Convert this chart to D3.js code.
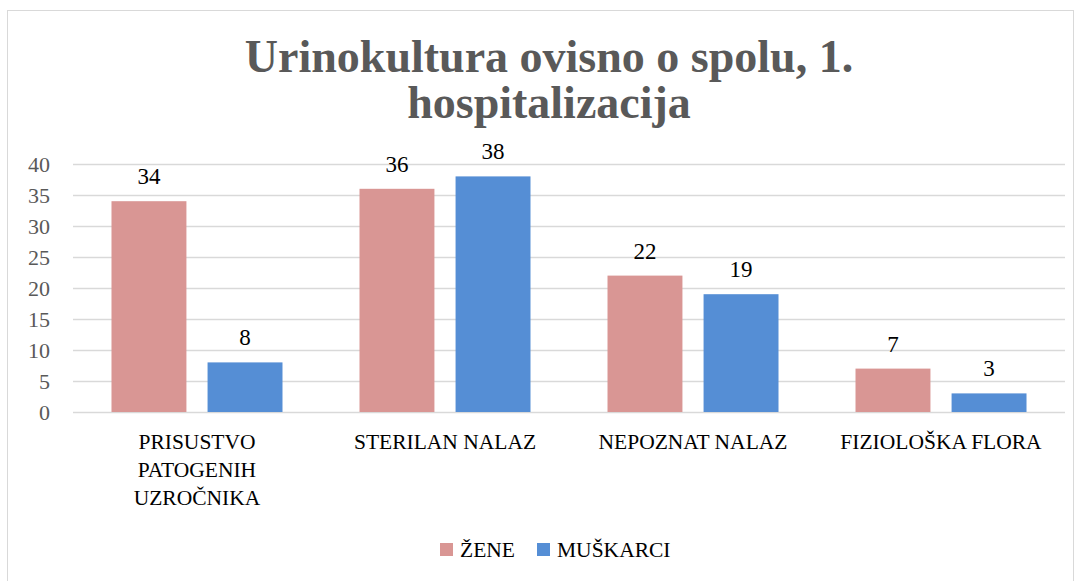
<!DOCTYPE html>
<html>
<head>
<meta charset="utf-8">
<script src="https://cdn.jsdelivr.net/npm/d3@7"></script>
<style>
  body { margin: 0; background: #fff; }
  text { font-family: "Liberation Serif", "DejaVu Serif", serif; }
</style>
</head>
<body>
<div id="chart"></div>
<script>
var categories = [["PRISUSTVO", "PATOGENIH", "UZROČNIKA"], ["STERILAN NALAZ"], ["NEPOZNAT NALAZ"], ["FIZIOLOŠKA FLORA"]];
var seriesNames = ["ŽENE", "MUŠKARCI"];
var zene = [34, 36, 22, 7];
var muskarci = [8, 38, 19, 3];
var yTicks = [0, 5, 10, 15, 20, 25, 30, 35, 40];
var colors = ["#d99694", "#558ed5"];

var svgWidth = 1079;
var svgHeight = 581;

var margin = { top: 164, right: 14, bottom: 169, left: 73 };
var width = svgWidth - margin.left - margin.right;
var height = svgHeight - margin.top - margin.bottom;

var svg = d3.select("#chart")
    .append("svg")
    .attr("width", svgWidth)
    .attr("height", svgHeight);

// outer chart border
svg.append("rect")
    .attr("x", 7.5)
    .attr("y", 10.5)
    .attr("width", 1066)
    .attr("height", 575)
    .attr("fill", "#fff")
    .attr("stroke", "#d9d9d9");

svg.append("text")
    .attr("x", 549)
    .attr("y", 72)
    .attr("text-anchor", "middle")
    .attr("font-size", "46px")
    .attr("font-weight", "bold")
    .attr("fill", "#595959")
    .selectAll("tspan")
    .data(["Urinokultura ovisno o spolu, 1.", "hospitalizacija"])
    .enter()
    .append("tspan")
    .attr("x", 549)
    .attr("dy", (d, i) => i === 0 ? 0 : 46)
    .text(d => d);

var chartGroup = svg.append("g")
    .attr("transform", `translate(${margin.left}, ${margin.top})`);

var x0 = d3.scaleBand()
    .domain(d3.range(categories.length))
    .range([0, width])
    .paddingInner(0.3105)
    .paddingOuter(0.1552);

var x1 = d3.scaleBand()
    .domain(d3.range(seriesNames.length))
    .range([0, x0.bandwidth()])
    .paddingInner(0.22);

var y = d3.scaleLinear()
    .domain([0, 40])
    .range([height, 0]);

// gridlines
chartGroup.append("g")
    .selectAll("line")
    .data(yTicks)
    .enter()
    .append("line")
    .attr("x1", 0)
    .attr("x2", width)
    .attr("y1", d => Math.round(y(d)) + 0.5)
    .attr("y2", d => Math.round(y(d)) + 0.5)
    .attr("stroke", "#d9d9d9")
    .attr("stroke-width", 1.5);

var leftAxis = d3.axisLeft(y).tickValues(yTicks).tickSize(0).tickPadding(23);
var yAxis = chartGroup.append("g").call(leftAxis);
yAxis.select(".domain").remove();
yAxis.selectAll("text")
    .attr("font-size", "22px")
    .attr("fill", "#595959")
    .attr("font-family", "Liberation Serif, serif");

var data = categories.map((c, i) => ({ idx: i, values: [zene[i], muskarci[i]] }));

var groups = chartGroup.selectAll(".grp")
    .data(data)
    .enter()
    .append("g")
    .attr("transform", d => `translate(${x0(d.idx)}, 0)`);

groups.selectAll("rect")
    .data(d => d.values)
    .enter()
    .append("rect")
    .attr("x", (d, i) => x1(i))
    .attr("y", d => y(d))
    .attr("width", x1.bandwidth())
    .attr("height", d => height - y(d))
    .attr("fill", (d, i) => colors[i]);

groups.selectAll(".val")
    .data(d => d.values)
    .enter()
    .append("text")
    .attr("x", (d, i) => x1(i) + x1.bandwidth() / 2)
    .attr("y", d => y(d) - 17)
    .attr("text-anchor", "middle")
    .attr("font-size", "23px")
    .attr("fill", "#000")
    .text(d => d);

// category labels
chartGroup.selectAll(".cat")
    .data(categories)
    .enter()
    .append("text")
    .attr("text-anchor", "middle")
    .attr("font-size", "21.5px")
    .attr("fill", "#000")
    .attr("y", height + 37)
    .each(function(lines, i) {
        var t = d3.select(this);
        lines.forEach(function(line, j) {
            t.append("tspan")
                .attr("x", x0(i) + x0.bandwidth() / 2)
                .attr("dy", j === 0 ? 0 : 28)
                .text(line);
        });
    });

// legend
var legend = svg.append("g").attr("transform", "translate(440, 550)");
var legendX = [0, 97];
seriesNames.forEach(function(name, i) {
    var item = legend.append("g").attr("transform", `translate(${legendX[i]}, 0)`);
    item.append("rect")
        .attr("x", 0)
        .attr("y", -7)
        .attr("width", 13)
        .attr("height", 13)
        .attr("fill", colors[i]);
    item.append("text")
        .attr("x", 20)
        .attr("y", 7)
        .attr("font-size", "21.5px")
        .attr("fill", "#000")
        .text(name);
});
</script>
</body>
</html>
